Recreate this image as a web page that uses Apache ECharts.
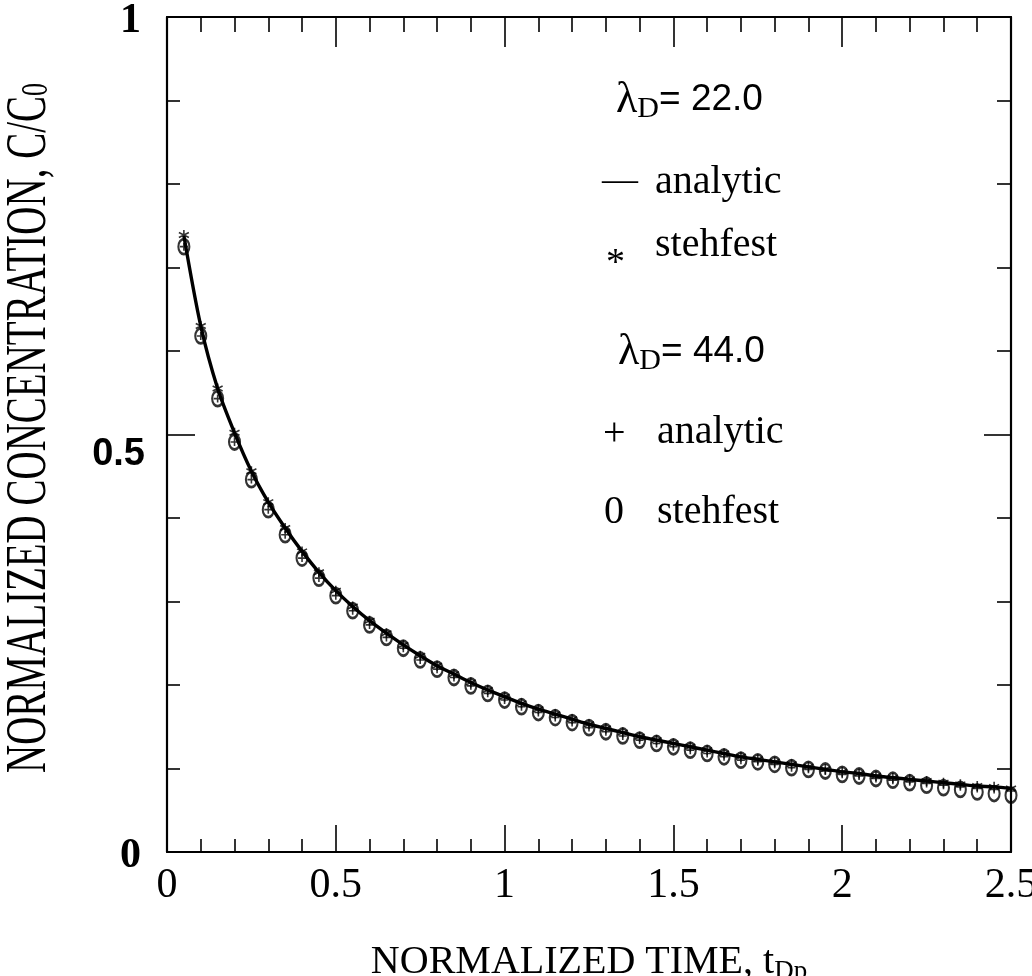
<!DOCTYPE html>
<html>
<head>
<meta charset="utf-8">
<script src="https://cdn.jsdelivr.net/npm/echarts@6/dist/echarts.min.js"></script>
<style>
html,body{margin:0;padding:0;background:#fff;overflow:hidden;}
#chart{width:1032px;height:976px;}
</style>
</head>
<body>
<div id="chart"></div>
<script>
// normalized time values (t_Dp)
var times = [0.05,0.10,0.15,0.20,0.25,0.30,0.35,0.40,0.45,0.50,
             0.55,0.60,0.65,0.70,0.75,0.80,0.85,0.90,0.95,1.00,
             1.05,1.10,1.15,1.20,1.25,1.30,1.35,1.40,1.45,1.50,
             1.55,1.60,1.65,1.70,1.75,1.80,1.85,1.90,1.95,2.00,
             2.05,2.10,2.15,2.20,2.25,2.30,2.35,2.40,2.45,2.50];
// lambda_D = 22.0, analytic (solid line)
var analytic22 = [0.738,0.630,0.555,0.502,0.456,0.419,0.388,0.360,0.335,0.313,
                  0.294,0.277,0.262,0.248,0.235,0.223,0.213,0.203,0.194,0.186,
                  0.178,0.171,0.165,0.159,0.153,0.148,0.143,0.138,0.134,0.130,
                  0.126,0.122,0.118,0.114,0.111,0.108,0.105,0.102,0.099,0.096,
                  0.094,0.091,0.089,0.087,0.085,0.083,0.081,0.079,0.078,0.076];
// lambda_D = 22.0, stehfest (*)
var stehfest22 = [0.739,0.630,0.555,0.502,0.456,0.419,0.388,0.360,0.335,0.313,
                  0.294,0.277,0.262,0.248,0.235,0.223,0.213,0.203,0.194,0.186,
                  0.178,0.171,0.165,0.159,0.153,0.148,0.143,0.138,0.134,0.130,
                  0.126,0.122,0.118,0.114,0.111,0.108,0.105,0.102,0.099,0.096,
                  0.094,0.091,0.089,0.087,0.085,0.083,0.081,0.079,0.078,0.076];
// lambda_D = 44.0, analytic (+)
var analytic44 = [0.725,0.618,0.543,0.491,0.446,0.410,0.380,0.352,0.328,0.307,
                  0.289,0.272,0.257,0.244,0.230,0.219,0.209,0.199,0.190,0.182,
                  0.174,0.167,0.161,0.155,0.149,0.144,0.139,0.134,0.130,0.126,
                  0.122,0.118,0.114,0.110,0.108,0.105,0.101,0.099,0.097,0.093,
                  0.091,0.088,0.086,0.084,0.082,0.080,0.078,0.076,0.075,0.073];
// lambda_D = 44.0, stehfest (0)
var stehfest44 = [0.725,0.618,0.543,0.491,0.446,0.410,0.380,0.352,0.328,0.307,
                  0.289,0.272,0.257,0.244,0.230,0.219,0.209,0.199,0.190,0.182,
                  0.174,0.167,0.161,0.155,0.149,0.144,0.139,0.134,0.130,0.126,
                  0.122,0.118,0.114,0.110,0.108,0.105,0.101,0.099,0.097,0.093,
                  0.091,0.088,0.086,0.083,0.080,0.077,0.075,0.072,0.070,0.068];
// axis tick labels
var xTickLabels = {0:'0',0.5:'0.5',1:'1',1.5:'1.5',2:'2',2.5:'2.5'};
var yTickLabels = {0:'0',0.5:'0.5',1:'1'};

function pairs(vals){ return times.map(function(t,i){ return [t, vals[i]]; }); }

var SERIF = "'Liberation Serif', 'DejaVu Serif', serif";
var SANS = "'Liberation Sans', 'DejaVu Sans', sans-serif";

var chart = echarts.init(document.getElementById('chart'), null, {renderer:'canvas'});

var tickStyle = {color:'#000', width:1.6};
var option = {
  backgroundColor:'#fff',
  animation:false,
  grid:{left:167, right:21, top:17, bottom:124, containLabel:false, outerBoundsMode:'none'},
  xAxis:[{
    type:'value', min:0, max:2.5, interval:0.5, position:'bottom',
    axisLine:{show:true, onZero:false, lineStyle:{color:'#000', width:2.2}},
    axisTick:{show:true, inside:true, length:27, lineStyle:tickStyle},
    minorTick:{show:true, splitNumber:5, length:13, lineStyle:tickStyle},
    splitLine:{show:false},
    axisLabel:{margin:13, color:'#000', fontFamily:SERIF, fontSize:42, hideOverlap:false,
      formatter:function(v){ return xTickLabels[v] !== undefined ? xTickLabels[v] : ''; }},
    name:'{a|NORMALIZED TIME, t}{s|Dp}', nameLocation:'middle', nameGap:88,
    nameTextStyle:{rich:{a:{fontFamily:SERIF, fontSize:40, color:'#000'},
                         s:{fontFamily:SERIF, fontSize:27, color:'#000', padding:[18,0,0,0]}}}
  },{
    type:'value', min:0, max:2.5, interval:0.5, position:'top',
    axisLine:{show:true, onZero:false, lineStyle:{color:'#000', width:2.2}},
    axisTick:{show:true, inside:true, length:30, lineStyle:tickStyle},
    minorTick:{show:true, splitNumber:5, length:15, lineStyle:tickStyle},
    splitLine:{show:false}, axisLabel:{show:false}
  }],
  yAxis:[{
    type:'value', min:0, max:1, interval:0.5, position:'left',
    axisLine:{show:true, onZero:false, lineStyle:{color:'#000', width:2.2}},
    axisTick:{show:true, inside:true, length:28, lineStyle:tickStyle},
    minorTick:{show:true, splitNumber:5, length:13, lineStyle:tickStyle},
    splitLine:{show:false},
    axisLabel:{margin:22, color:'#000',
      formatter:function(v){
        var s = yTickLabels[v];
        if (s === undefined) return '';
        return v === 0.5 ? '{b|' + s + '}' : '{s|' + s + '}';
      },
      rich:{
        s:{fontFamily:SERIF, fontSize:42, fontWeight:'bold', color:'#000', padding:[8,4,0,0]},
        b:{fontFamily:SANS, fontSize:38, fontWeight:'bold', color:'#000', padding:[40,0,0,0]}
      }}
  },{
    type:'value', min:0, max:1, interval:0.5, position:'right',
    axisLine:{show:true, onZero:false, lineStyle:{color:'#000', width:2.2}},
    axisTick:{show:true, inside:true, length:27, lineStyle:tickStyle},
    minorTick:{show:true, splitNumber:5, length:14, lineStyle:tickStyle},
    splitLine:{show:false}, axisLabel:{show:false}
  }],
  graphic:[
    {type:'text', x:30, y:428, rotation:Math.PI/2, scaleY:1.45,
     style:{text:'{a|NORMALIZED CONCENTRATION, C/C}{s|0}', textAlign:'center', textVerticalAlign:'middle',
            rich:{a:{fontFamily:SERIF, fontSize:39, fill:'#000'},
                  s:{fontFamily:SERIF, fontSize:26, fill:'#000', padding:[10,0,0,0]}}}},
    {type:'text', x:616, y:100,
     style:{text:'{l|λ}{d|D}{e|= 22.0}', textVerticalAlign:'middle',
            rich:{l:{fontFamily:SERIF, fontSize:44, fill:'#000'},
                  d:{fontFamily:SERIF, fontSize:30, fill:'#000', padding:[18,0,0,0]},
                  e:{fontFamily:SANS, fontSize:37, fill:'#000'}}}},
    {type:'text', x:602, y:182, style:{text:'—', font:'36px '+SERIF, fill:'#000', textVerticalAlign:'middle'}},
    {type:'text', x:655, y:182, style:{text:'analytic', font:'40px '+SERIF, fill:'#000', textVerticalAlign:'middle'}},
    {type:'text', x:606, y:264, style:{text:'*', font:'38px '+SERIF, fill:'#000', textVerticalAlign:'middle'}},
    {type:'text', x:655, y:245, style:{text:'stehfest', font:'40px '+SERIF, fill:'#000', textVerticalAlign:'middle'}},
    {type:'text', x:618, y:352,
     style:{text:'{l|λ}{d|D}{e|= 44.0}', textVerticalAlign:'middle',
            rich:{l:{fontFamily:SERIF, fontSize:44, fill:'#000'},
                  d:{fontFamily:SERIF, fontSize:30, fill:'#000', padding:[18,0,0,0]},
                  e:{fontFamily:SANS, fontSize:37, fill:'#000'}}}},
    {type:'text', x:603, y:434, style:{text:'+', font:'40px '+SERIF, fill:'#000', textVerticalAlign:'middle'}},
    {type:'text', x:657, y:432, style:{text:'analytic', font:'40px '+SERIF, fill:'#000', textVerticalAlign:'middle'}},
    {type:'text', x:604, y:512, style:{text:'0', font:'40px '+SERIF, fill:'#000', textVerticalAlign:'middle'}},
    {type:'text', x:657, y:512, style:{text:'stehfest', font:'40px '+SERIF, fill:'#000', textVerticalAlign:'middle'}}
  ],
  series:[
    {name:'analytic λD=22.0', type:'line', xAxisIndex:0, yAxisIndex:0, data:pairs(analytic22),
     showSymbol:false, smooth:0.3, clip:false, lineStyle:{color:'#000', width:3.4}, z:3},
    {name:'stehfest λD=22.0', type:'scatter', data:pairs(stehfest22), clip:false,
     symbol:'path://M0,-1 L0,1 M-0.87,-0.5 L0.87,0.5 M-0.87,0.5 L0.87,-0.5', symbolSize:10,
     itemStyle:{color:'transparent', borderColor:'#000', borderWidth:1.6}, z:4},
    {name:'analytic λD=44.0', type:'scatter', data:pairs(analytic44), clip:false,
     symbol:'path://M0,-1 L0,1 M-1,0 L1,0', symbolSize:8,
     itemStyle:{color:'transparent', borderColor:'#000', borderWidth:1.6}, z:4},
    {name:'stehfest λD=44.0', type:'scatter', data:pairs(stehfest44), clip:false,
     symbol:'path://M5,0 A5,7 0 1,1 5,14 A5,7 0 1,1 5,0 Z', symbolSize:[11,15],
     itemStyle:{color:'transparent', borderColor:'#000', borderWidth:2.4}, z:4}
  ]
};
chart.setOption(option);
</script>
</body>
</html>
